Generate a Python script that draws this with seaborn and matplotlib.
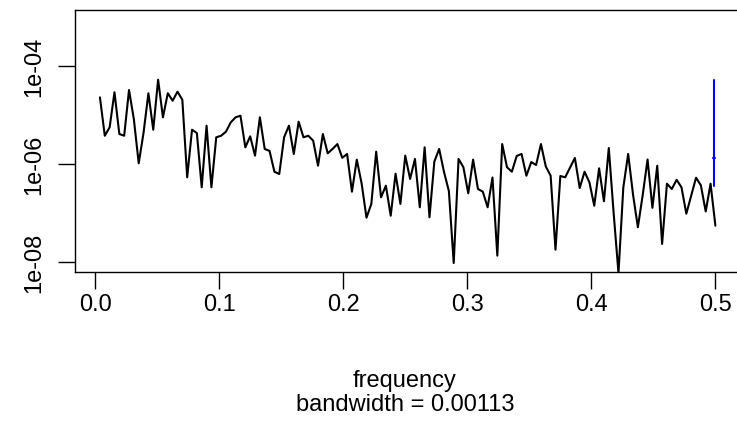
import numpy as np
import seaborn as sns
import matplotlib
matplotlib.use("Agg")
import matplotlib.pyplot as plt

# raw periodogram, series of length 256 -> Fourier frequencies 1/256 .. 0.5
n_obs = 256
freq = np.arange(1, 129) / n_obs

spec = [
    2.26e-5, 3.72e-6, 5.53e-6, 2.87e-5, 4.04e-6, 3.72e-6, 3.19e-5, 8.05e-6,
    1.02e-6, 4.30e-6, 2.74e-5, 4.94e-6, 5.18e-5, 8.85e-6, 2.74e-5, 1.93e-5,
    2.95e-5, 2.02e-5, 5.28e-7, 4.94e-6, 4.23e-6, 3.30e-7, 5.97e-6, 3.30e-7,
    3.46e-6, 3.72e-6, 4.50e-6, 7.00e-6, 8.85e-6, 9.54e-6, 2.16e-6, 3.62e-6,
    1.46e-6, 8.85e-6, 2.00e-6, 1.82e-6, 6.87e-7, 6.16e-7, 3.46e-6, 5.97e-6,
    1.58e-6, 7.20e-6, 3.46e-6, 3.72e-6, 2.95e-6, 9.10e-7, 4.04e-6, 1.63e-6,
    2.00e-6, 2.52e-6, 1.32e-6, 1.58e-6, 2.69e-7, 1.21e-6, 3.94e-7, 7.91e-8,
    1.51e-7, 1.76e-6, 2.06e-7, 3.56e-7, 8.69e-8, 6.25e-7, 1.51e-7, 1.46e-6,
    4.88e-7, 1.25e-6, 1.29e-7, 2.16e-6, 8.05e-8, 1.10e-6, 2.00e-6, 6.77e-7,
    2.77e-7, 9.40e-9, 1.25e-6, 8.45e-7, 2.49e-7, 1.21e-6, 3.05e-7, 2.69e-7,
    1.29e-7, 5.23e-7, 1.33e-8, 2.52e-6, 8.45e-7, 6.87e-7, 1.44e-6, 1.58e-6,
    5.69e-7, 1.08e-6, 9.41e-7, 2.52e-6, 8.77e-7, 5.69e-7, 1.76e-8, 5.61e-7,
    5.28e-7, 8.28e-7, 1.31e-6, 3.19e-7, 6.87e-7, 4.17e-7, 1.39e-7, 8.05e-7,
    1.71e-7, 2.09e-6, 9.86e-8, 5.88e-9, 3.30e-7, 1.58e-6, 2.35e-7, 5.04e-8,
    2.30e-7, 1.22e-6, 1.26e-7, 9.10e-7, 2.30e-8, 3.91e-7, 3.05e-7, 4.69e-7,
    3.30e-7, 9.54e-8, 2.22e-7, 5.18e-7, 3.62e-7, 1.06e-7, 3.91e-7, 5.43e-8,
]

bandwidth = 0.00113
x_ticks = [0.0, 0.1, 0.2, 0.3, 0.4, 0.5]
y_ticks = [1e-8, 1e-6, 1e-4]
y_labels = ["1e-08", "1e-06", "1e-04"]

# 95% interval for a chi-square(2) spectral estimate
ci_df = 2
q_lo = -2 * np.log(1 - 0.975)
q_hi = -2 * np.log(1 - 0.025)
conf_lim = np.array([ci_df / q_lo, ci_df / q_hi])
conf_y = max(spec) / conf_lim[1]
conf_x = max(freq) - bandwidth

sns.set_style("ticks")
plt.rcParams["font.family"] = ["Liberation Sans", "DejaVu Sans"]

fig = plt.figure(figsize=(7.37, 4.35), dpi=100)
ax = fig.add_axes([0.1022, 0.3731, 0.9019, 0.6023])

sns.lineplot(x=freq, y=spec, ax=ax, color="black", linewidth=1.5,
             estimator=None, sort=False)
ax.plot([conf_x, conf_x], conf_y * conf_lim, color="blue", linewidth=1.5)
ax.plot(conf_x + np.array([-0.5, 0.5]) * bandwidth, [conf_y, conf_y],
        color="blue", linewidth=1.5)

ax.set_yscale("log")
ax.set_xlim(-0.01594, 0.51984)
ax.set_ylim(10 ** -8.204, 10 ** -2.857)
ax.set_xticks(x_ticks)
ax.set_xticklabels([f"{t:.1f}" for t in x_ticks])
ax.set_yticks(y_ticks)
ax.set_yticklabels(y_labels, rotation=90, va="center")
ax.minorticks_off()
ax.tick_params(axis="both", length=12, width=1.0, labelsize=17,
               color="black", labelcolor="black", direction="out")
ax.tick_params(axis="x", pad=3)
ax.tick_params(axis="y", pad=10)
for s in ax.spines.values():
    s.set_linewidth(1.0)
    s.set_color("black")
ax.set_xlabel("")
ax.set_ylabel("")

fig.text(405 / 737, 1 - 381 / 435, "frequency", ha="center", va="center",
         fontsize=17, color="black")
fig.text(405 / 737, 1 - 405 / 435, f"bandwidth = {bandwidth}", ha="center",
         va="center", fontsize=17, color="black")

fig.savefig("out.png", dpi=100)
plt.close(fig)
